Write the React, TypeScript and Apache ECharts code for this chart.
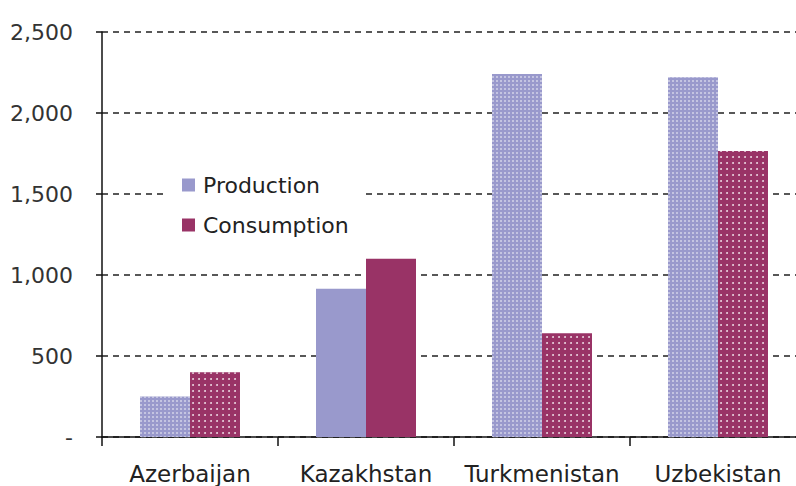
import React, { useEffect, useRef } from "react";
import * as echarts from "echarts";

const categories = ["Azerbaijan", "Kazakhstan", "Turkmenistan", "Uzbekistan"];
const production = [250, 915, 2240, 2220];
const consumption = [400, 1100, 640, 1765];
const patterned = [true, false, true, true];
const yTicks = [0, 500, 1000, 1500, 2000, 2500];

const FONT = "DejaVu Sans";
const PROD_COLOR = "#9999CC";
const CONS_COLOR = "#993366";

const prodDecal = {
  symbol: "rect",
  symbolSize: 1,
  color: "rgba(255,255,255,0.42)",
  dashArrayX: [1.5, 1.5],
  dashArrayY: [1.5, 1.5],
  rotation: 0,
};
const consDecal = {
  symbol: "circle",
  symbolSize: 0.9,
  color: "rgba(255,255,255,0.85)",
  dashArrayX: [2, 4],
  dashArrayY: [2, 4],
  rotation: 0,
};

export default function App() {
  const ref = useRef<HTMLDivElement>(null);
  useEffect(() => {
    if (!ref.current) return;
    const chart = echarts.init(ref.current, undefined, { renderer: "svg" });
    chart.setOption({
      animation: false,
      backgroundColor: "#ffffff",
      textStyle: { fontFamily: FONT },
      legend: {
        orient: "vertical",
        left: 168,
        top: 170,
        padding: [4, 16, 4, 14],
        backgroundColor: "#ffffff",
        itemWidth: 13,
        itemHeight: 13,
        itemGap: 18,
        icon: "rect",
        textStyle: { fontFamily: FONT, fontSize: 22, color: "#222", padding: [0, 0, 0, 3] },
        data: ["Production", "Consumption"],
      },
      grid: { left: 102, top: 32, bottom: 49, right: 0, containLabel: false },
      xAxis: {
        type: "category",
        data: categories,
        boundaryGap: true,
        axisLine: { show: true, lineStyle: { color: "#111", width: 1.5 } },
        axisTick: { show: true, length: 9, interval: 0, lineStyle: { color: "#111", width: 1.5 } },
        axisLabel: { fontFamily: FONT, fontSize: 23, color: "#222", margin: 25, interval: 0 },
        splitLine: { show: false },
      },
      yAxis: {
        type: "value",
        min: yTicks[0],
        max: yTicks[yTicks.length - 1],
        interval: 500,
        axisLine: { show: true, lineStyle: { color: "#111", width: 1.5 } },
        axisTick: { show: true, length: 6, lineStyle: { color: "#111", width: 1.5 } },
        axisLabel: {
          fontFamily: FONT,
          fontSize: 22,
          color: "#333",
          margin: 29,
          formatter: (v: number) => (v === 0 ? "-" : v.toLocaleString("en-US")),
        },
        splitLine: {
          show: true,
          lineStyle: { color: "#222", width: 1.5, type: [6, 5] },
        },
      },
      series: [
        {
          name: "Production",
          type: "bar",
          barWidth: 50,
          barGap: "0%",
          itemStyle: { color: PROD_COLOR },
          data: production.map((v, i) => ({
            value: v,
            itemStyle: patterned[i] ? { color: PROD_COLOR, decal: prodDecal } : { color: PROD_COLOR },
          })),
        },
        {
          name: "Consumption",
          type: "bar",
          barWidth: 50,
          barGap: "0%",
          itemStyle: { color: CONS_COLOR },
          data: consumption.map((v, i) => ({
            value: v,
            itemStyle: patterned[i] ? { color: CONS_COLOR, decal: consDecal } : { color: CONS_COLOR },
          })),
        },
      ],
    });
    return () => chart.dispose();
  }, []);
  return (
    <div
      style={{
        position: "fixed",
        left: 0,
        top: 0,
        width: 796,
        height: 486,
        overflow: "hidden",
        background: "#fff",
      }}
    >
      <div ref={ref} style={{ width: 806, height: 486 }} />
    </div>
  );
}
